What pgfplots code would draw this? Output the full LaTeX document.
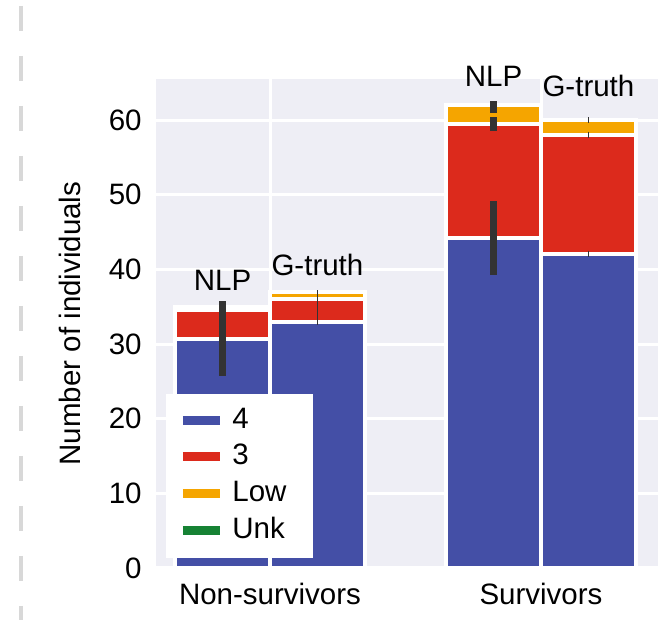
\documentclass[border=0pt]{standalone}
\usepackage{fontspec}
\setmainfont{Liberation Sans}
\usepackage{pgfplots}
\pgfplotsset{compat=1.18}
\definecolor{cfour}{RGB}{68,79,166}
\definecolor{cthree}{RGB}{220,42,28}
\definecolor{clow}{RGB}{245,165,0}
\definecolor{cunk}{RGB}{22,130,52}
\definecolor{bgc}{RGB}{238,238,245}
\definecolor{errc}{RGB}{51,51,51}
\definecolor{dashc}{RGB}{216,216,216}
\begin{document}
\fontsize{14.75}{17.7}\selectfont
\begin{tikzpicture}
\begin{axis}[
 name=ax,
 width=251pt, height=244.5pt, scale only axis,
 xmin=-0.4207, xmax=1.4317, ymin=0, ymax=65.5,
 clip=false,
 xtick={0,1}, xticklabels={Non-survivors,Survivors},
 ytick={0,10,...,60},
 major tick length=0pt,
 axis background/.style={fill=bgc},
 axis line style={draw=none},
 grid=major, grid style={white, line width=1.5pt},
 tick label style={font=\fontsize{14.75}{17.7}\selectfont},
 /pgf/number format/assume math mode=true,
 yticklabel style={inner sep=0pt, xshift=-7pt},
 xticklabel style={inner sep=0pt, yshift=-7.5pt},
 ylabel={Number of individuals},
 ylabel style={at={(axis description cs:-0.171,0.5)}, anchor=center, font=\fontsize{14.75}{17.7}\selectfont},
 legend style={at={(0.02,0.0204)}, anchor=south west, draw=none, fill=white,
   inner xsep=6pt, inner ysep=5.25pt, row sep=1.8pt, column sep=2pt,
   font=\fontsize{14.75}{17.7}\selectfont, nodes={inner sep=2pt}},
 legend cell align=left,
]
% cumulative tops: Low (total), 3 (4+3), 4
\addplot[ybar, bar width=0.35, bar shift=0pt, fill=clow, draw=white, line width=2pt, forget plot]
  coordinates {(-0.175,35.0) (0.175,37) (0.825,62.0) (1.175,60)};
\addplot[ybar, bar width=0.35, bar shift=0pt, fill=cthree, draw=white, line width=2pt, forget plot]
  coordinates {(-0.175,34.6) (0.175,36) (0.825,59.5) (1.175,58)};
\addplot[ybar, bar width=0.35, bar shift=0pt, fill=cfour, draw=white, line width=2pt, forget plot]
  coordinates {(-0.175,30.7) (0.175,33) (0.825,44.2) (1.175,42)};
% NLP error bars (thick)
\addplot[forget plot, draw=none, mark=none, error bars/.cd, y dir=both, y explicit,
  error mark=none, error bar style={line width=3.3pt, draw=errc}]
  coordinates {(-0.175,30.7) +- (0,5) (-0.175,34.6) +- (0,0.9) (0.825,44.2) +- (0,5)
               (0.825,59.5) +- (0,0.94) (0.825,61.8) +- (0,0.8)};
% G-truth error bars (thin)
\addplot[forget plot, draw=none, mark=none, error bars/.cd, y dir=both, y explicit,
  error mark=none, error bar style={line width=0.75pt, draw=errc}]
  coordinates {(0.175,36) += (0,1.3) -= (0,3.4) (1.175,42) +- (0,0.4)
               (1.175,58) +- (0,0.4) (1.175,60) +- (0,0.4)};
\addlegendimage{legend image code/.code={\draw[cfour, line width=4.5pt] (0pt,0pt) -- (18.5pt,0pt);}}
\addlegendentry{\makebox[32.5pt][l]{4}}
\addlegendimage{legend image code/.code={\draw[cthree, line width=4.5pt] (0pt,0pt) -- (18.5pt,0pt);}}
\addlegendentry{\makebox[32.5pt][l]{3}}
\addlegendimage{legend image code/.code={\draw[clow, line width=4.5pt] (0pt,0pt) -- (18.5pt,0pt);}}
\addlegendentry{\makebox[32.5pt][l]{Low}}
\addlegendimage{legend image code/.code={\draw[cunk, line width=4.5pt] (0pt,0pt) -- (18.5pt,0pt);}}
\addlegendentry{\makebox[32.5pt][l]{Unk}}
\node[anchor=base] at (axis cs:-0.175,37.2) {NLP};
\node[anchor=base] at (axis cs:0.175,39.2) {G-truth};
\node[anchor=base] at (axis cs:0.825,64.5) {NLP};
\node[anchor=base] at (axis cs:1.175,63.1) {G-truth};
\end{axis}
\pgfresetboundingbox
\path[use as bounding box] ([shift={(-78pt,-26pt)}]ax.south west) rectangle ([shift={(255pt,284pt)}]ax.south west);
\draw[dashc, line width=2.25pt, dash pattern=on 12.5pt off 12.5pt, dash phase=22pt]
  ([shift={(-67.5pt,284pt)}]ax.south west) -- ([shift={(-67.5pt,-26pt)}]ax.south west);
\end{tikzpicture}
\end{document}
